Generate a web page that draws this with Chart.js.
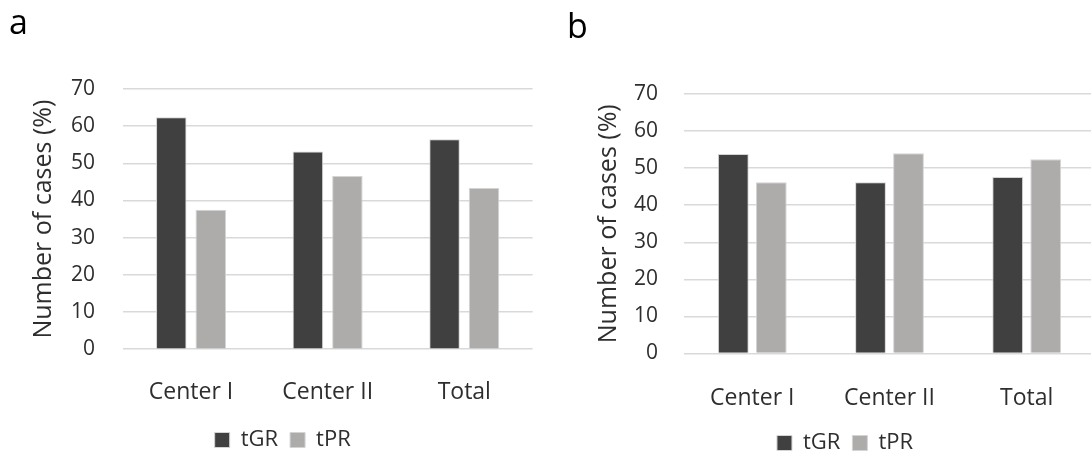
<!DOCTYPE html>
<html>
<head>
<meta charset="utf-8">
<script src="https://cdn.jsdelivr.net/npm/chart.js@4/dist/chart.umd.min.js"></script>
<style>
    html, body { margin: 0; padding: 0; background: #fff; overflow: hidden; width: 1091px; height: 453px; }
    canvas { position: absolute; top: 0; }
    #chart-a { left: 0; }
    #chart-b { left: 557px; }
</style>
</head>
<body>
<canvas id="chart-a" width="566" height="461"></canvas>
<canvas id="chart-b" width="576" height="464"></canvas>
<script>
const categories = ["Center I", "Center II", "Total"];
const seriesNames = ["tGR", "tPR"];
const tGRa = [62.4, 53.2, 56.5];
const tPRa = [37.5, 46.6, 43.4];
const tGRb = [53.8, 46.2, 47.6];
const tPRb = [46.2, 54.0, 52.4];
const yMax = 70;
const yStep = 10;

const darkGrey = "#404040";
const lightGrey = "#aeabab";
const textColor = "#2e2e2e";
const font = "'Open Sans', sans-serif";

Chart.defaults.font.family = font;
Chart.defaults.color = textColor;

function makeChart(id, panel, gr, pr, g) {
    new Chart(id, {
        type: "bar",
        data: {
            labels: categories,
            datasets: [
                { label: seriesNames[0], data: gr, backgroundColor: darkGrey, borderColor: "#d4d4d4", borderWidth: 1 },
                { label: seriesNames[1], data: pr, backgroundColor: lightGrey, borderColor: "#d4d4d4", borderWidth: 1 }
            ]
        },
        options: {
            responsive: false,
            animation: false,
            events: [],
            categoryPercentage: g.catPct,
            barPercentage: g.barPct,
            layout: { padding: { left: g.padL, right: g.padR, top: 0, bottom: 0 } },
            plugins: {
                tooltip: { enabled: false },
                title: {
                    display: true,
                    text: panel,
                    align: "start",
                    color: "#000",
                    font: { size: 34, weight: "normal" },
                    padding: { top: g.titleTop, bottom: g.titleBottom }
                },
                legend: {
                    position: "bottom",
                    labels: {
                        boxWidth: 15,
                        boxHeight: 15,
                        padding: 12,
                        color: textColor,
                        font: { size: 22 }
                    }
                }
            },
            scales: {
                x: {
                    grid: { display: false },
                    border: { display: false },
                    ticks: { padding: g.xPad, font: { size: 23 }, color: textColor },
                    afterFit: s => { s.height = g.xHeight; }
                },
                y: {
                    min: 0,
                    max: yMax,
                    grid: { color: "#d9d9d9", lineWidth: 1.5, drawTicks: false },
                    border: { display: false },
                    ticks: { stepSize: yStep, padding: g.yPad, font: { size: 21 }, color: textColor },
                    title: {
                        display: true,
                        text: "Number of cases (%)",
                        color: textColor,
                        font: { size: 25 },
                        padding: { top: g.yTitleTop, bottom: 0 }
                    },
                    afterFit: s => { s.width = g.yWidth; }
                },
                spacer: {
                    position: "right",
                    grid: { display: false },
                    border: { display: false },
                    ticks: { display: false },
                    afterFit: s => { s.width = g.spacer; }
                }
            }
        }
    });
}

makeChart("chart-a", "a", tGRa, tPRa, {
    padL: 9, padR: 9.6, titleTop: 3.5, titleBottom: 44.7,
    xPad: 21.5, xHeight: 67.8, yPad: 27.7, yWidth: 113.7, yTitleTop: 19.5,
    spacer: 23.8, catPct: 0.578, barPct: 0.772
});

makeChart("chart-b", "b", tGRb, tPRb, {
    padL: 10, padR: 10, titleTop: 7.5, titleBottom: 45.7,
    xPad: 22.9, xHeight: 66.5, yPad: 25.7, yWidth: 116.7, yTitleTop: 27,
    spacer: 27.7, catPct: 0.554, barPct: 0.81
});
</script>
</body>
</html>
